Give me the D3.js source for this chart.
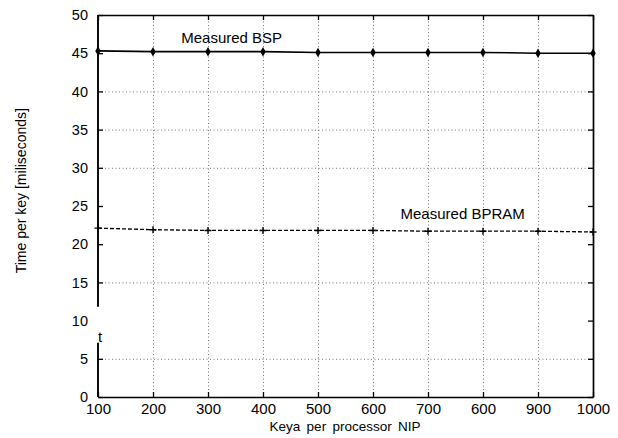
<!DOCTYPE html>
<html>
<head>
<meta charset="UTF-8">
<style>
  body { margin: 0; background: #fff; }
  svg { font-family: "Liberation Sans", Arial, sans-serif; }
  .grid line { stroke: #555; stroke-dasharray: 1,2.5; stroke-width: 0.8; }
  .grid path { display: none; }
</style>
</head>
<body>
<svg id="chart" width="618" height="438"></svg>
<script src="https://d3js.org/d3.v7.min.js"></script>
<script>
const keys = [100, 200, 300, 400, 500, 600, 700, 800, 900, 1000];
const xTickLabels = ["100", "200", "300", "400", "500", "600", "700", "600", "900", "1000"];
const bsp = [45.3, 45.2, 45.2, 45.2, 45.1, 45.1, 45.1, 45.1, 45.0, 45.0];
const bpram = [22.1, 21.9, 21.8, 21.8, 21.8, 21.8, 21.7, 21.7, 21.7, 21.6];
const yTicks = [0, 5, 10, 15, 20, 25, 30, 35, 40, 45, 50];
const gridY = [5, 15, 30, 35, 40];

const margin = { left: 98, right: 25, top: 15, bottom: 41 };
const W = 618, H = 438;
const iw = W - margin.left - margin.right;
const ih = H - margin.top - margin.bottom;

const svg = d3.select('#chart');
const g = svg.append('g').attr('transform', `translate(${margin.left},${margin.top})`);

const x = d3.scaleLinear().domain([100, 1000]).range([0, iw]);
const y = d3.scaleLinear().domain([0, 50]).range([ih, 0]);

// grilles pointillées
g.append('g').attr('class', 'grid')
  .attr('transform', `translate(0,${ih})`)
  .call(d3.axisBottom(x).tickValues(keys.slice(1, -1)).tickSize(-ih).tickFormat(''));
g.append('g').attr('class', 'grid')
  .call(d3.axisLeft(y).tickValues(gridY).tickSize(-iw).tickFormat(''));

// axes
const axBottom = g.append('g')
  .attr('transform', `translate(0,${ih})`)
  .call(d3.axisBottom(x).tickValues(keys).tickSizeInner(-5).tickSizeOuter(0).tickPadding(6)
    .tickFormat((d, i) => xTickLabels[i]));
const axTop = g.append('g')
  .call(d3.axisTop(x).tickValues(keys).tickSizeInner(-5).tickSizeOuter(0).tickFormat(''));
const axLeft = g.append('g')
  .call(d3.axisLeft(y).tickValues(yTicks).tickSizeInner(-5).tickSizeOuter(0).tickPadding(10));
const axRight = g.append('g')
  .attr('transform', `translate(${iw},0)`)
  .call(d3.axisRight(y).tickValues(yTicks).tickSizeInner(-5).tickSizeOuter(0).tickFormat(''));

[axBottom, axTop, axLeft, axRight].forEach(a => {
  a.selectAll('.tick line').attr('stroke', '#000').attr('stroke-width', 1.3);
  a.select('.domain').attr('stroke', '#000').attr('stroke-width', 1.7);
  a.selectAll('text').attr('fill', '#000').attr('font-size', 15);
});
axLeft.selectAll('text').attr('font-size', 14.5);

// axe gauche interrompu près de 10 (comme sur la figure)
axLeft.select('.domain').remove();
axLeft.selectAll('.tick').filter(d => d === 10).select('line').remove();
[[50, 11.8], [7.1, 0]].forEach(([a, b]) => {
  axLeft.append('line').attr('x1', 0).attr('x2', 0)
    .attr('y1', y(a)).attr('y2', y(b))
    .attr('stroke', '#000').attr('stroke-width', 1.9);
});
g.append('text').attr('x', 0).attr('y', y(7.2)).attr('font-size', 15).attr('fill', '#000').text('t');

// séries
const line = d3.line().x((d, i) => x(keys[i])).y(d => y(d));
g.append('path').datum(bsp).attr('d', line)
  .attr('fill', 'none').attr('stroke', '#000').attr('stroke-width', 1.6);
g.append('path').datum(bpram).attr('d', line)
  .attr('fill', 'none').attr('stroke', '#000').attr('stroke-width', 1.3)
  .attr('stroke-dasharray', '4,2');

g.selectAll('.bspPt').data(bsp).join('path').attr('class', 'bspPt')
  .attr('transform', (d, i) => `translate(${x(keys[i])},${y(d)})`)
  .attr('d', d3.symbol(d3.symbolDiamond, 26))
  .attr('fill', '#000');
g.selectAll('.bpramPt').data(bpram).join('path').attr('class', 'bpramPt')
  .attr('transform', (d, i) => `translate(${x(keys[i])},${y(d)})`)
  .attr('d', 'M-3.5,0H3.5M0,-3.5V3.5')
  .attr('stroke', '#000').attr('stroke-width', 1.4);

// étiquettes des séries
g.append('text').attr('x', x(343)).attr('y', y(46.3)).attr('text-anchor', 'middle')
  .attr('font-size', 15).attr('fill', '#000').text('Measured BSP');
g.append('text').attr('x', x(763)).attr('y', y(23.3)).attr('text-anchor', 'middle')
  .attr('font-size', 15).attr('fill', '#000').text('Measured BPRAM');

// titres des axes
svg.append('text').attr('x', 345).attr('y', 431).attr('text-anchor', 'middle')
  .attr('font-size', 13.5).attr('word-spacing', 2.5).attr('fill', '#000')
  .text('Keya per processor NIP');
svg.append('text').attr('transform', `translate(26,${margin.top + y(27)}) rotate(-90)`)
  .attr('text-anchor', 'middle').attr('font-size', 14).attr('fill', '#000')
  .text('Time per key [miliseconds]');
</script>
</body>
</html>
